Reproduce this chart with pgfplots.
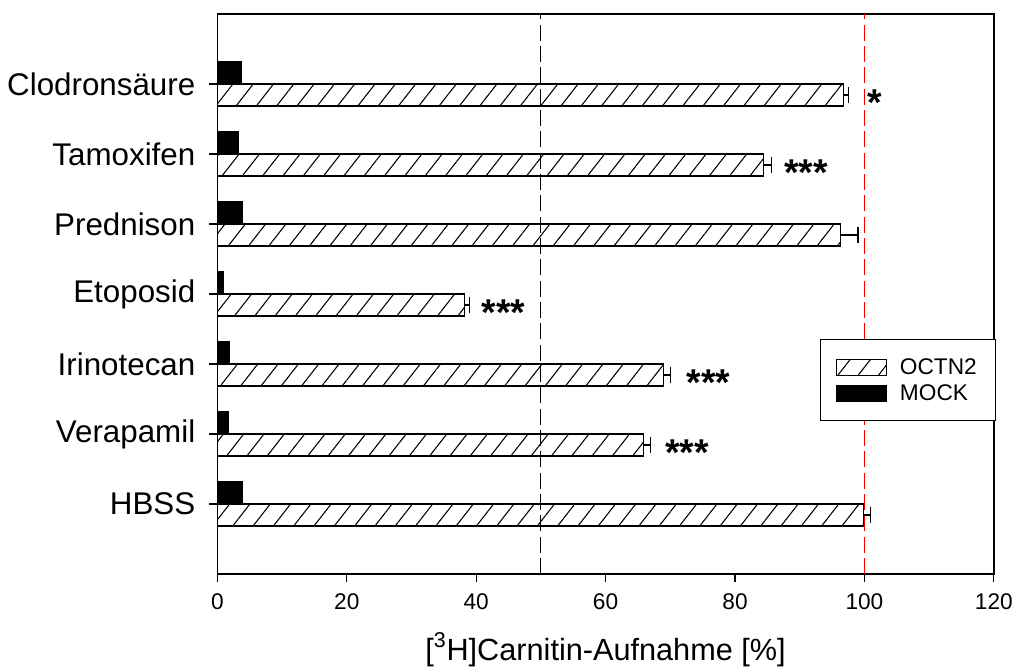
\documentclass[border=0pt]{standalone}
\usepackage{fontspec}
\setmainfont{Liberation Sans}
\usepackage{pgfplots}
\pgfplotsset{compat=1.18}
\usetikzlibrary{patterns.meta}
\begin{document}
\begin{tikzpicture}
\path[use as bounding box] (-163pt,-70.5pt) rectangle (599pt,430.5pt);
\begin{axis}[
 at={(0,0)}, anchor=south west,
 scale only axis, width=582.4pt, height=420pt,
 xmin=0,xmax=120,ymin=0,ymax=8,
 xtick={0,20,...,120}, ytick={1,...,7},
 yticklabels={HBSS,Verapamil,Irinotecan,Etoposid,Prednison,Tamoxifen,Clodronsäure},
 tick align=outside, xtick pos=bottom, ytick pos=left,
 major tick length=6pt,
 tick style={black, line width=0.8pt},
 axis line style={line width=1pt},
 /pgf/number format/assume math mode=true,
 xticklabel style={font=\fontsize{17}{19}\selectfont, yshift=-5pt},
 yticklabel style={font=\fontsize{23.5}{27}\selectfont, xshift=-7pt},
 xlabel={\mbox{[}\textsuperscript{3}H]Carnitin-Aufnahme [\%]},
 xlabel style={font=\fontsize{23}{26}\selectfont, at={(axis description cs:0.5,0)}, anchor=base, yshift=-64.5pt},
 legend style={at={(rel axis cs:1.003,0.4196)}, anchor=north east, draw=black, line width=1.1pt,
   font=\fontsize{17}{19}\selectfont, inner xsep=12pt, inner ysep=12pt, row sep=2pt},
 legend cell align=left,
 legend image code/.code={\draw[#1, line width=0.8pt] (0pt,-6pt) rectangle (37pt,6pt); \path (45pt,0pt);},
]
\addplot[forget plot, black, line width=0.7pt, dash pattern=on 12pt off 4pt] coordinates {(50,0) (50,8)};
\addplot[forget plot, red, line width=0.8pt, dash pattern=on 12pt off 4pt] coordinates {(100,0) (100,8)};

\addplot[xbar, bar width=0.314, bar shift=0pt, draw=black, line width=0.8pt,
  pattern={Lines[angle=52,distance=12pt,line width=0.8pt]},
  error bars/.cd, x dir=plus, x explicit,
  error bar style={line width=0.8pt, black, solid},
  error mark options={rotate=90, mark size=6pt, line width=0.8pt, black, solid}]
coordinates {
 (99.9,0.843) +- (1.0,0)
 (65.9,1.843) +- (1.0,0)
 (68.9,2.843) +- (1.2,0)
 (38.2,3.843) +- (0.7,0)
 (96.3,4.843) +- (2.7,0)
 (84.4,5.843) +- (1.3,0)
 (96.8,6.843) +- (0.8,0)
};
\addplot[xbar, bar width=0.314, bar shift=0pt, draw=black, line width=0.8pt, fill=black]
coordinates {
 (3.9,1.157)
 (1.7,2.157)
 (1.8,3.157)
 (1.0,4.157)
 (3.9,5.157)
 (3.2,6.157)
 (3.8,7.157)
};
\legend{OCTN2,MOCK}

\tikzset{stars/.style={anchor=base west, inner sep=0pt, font=\fontsize{28}{30}\selectfont\bfseries, yshift=-15.5pt}}
\node[stars] at (axis cs:100.4,6.843) {*};
\node[stars] at (axis cs:87.6,5.843) {***};
\node[stars] at (axis cs:40.8,3.843) {***};
\node[stars] at (axis cs:72.5,2.843) {***};
\node[stars] at (axis cs:69.2,1.843) {***};
\end{axis}
\end{tikzpicture}
\end{document}
